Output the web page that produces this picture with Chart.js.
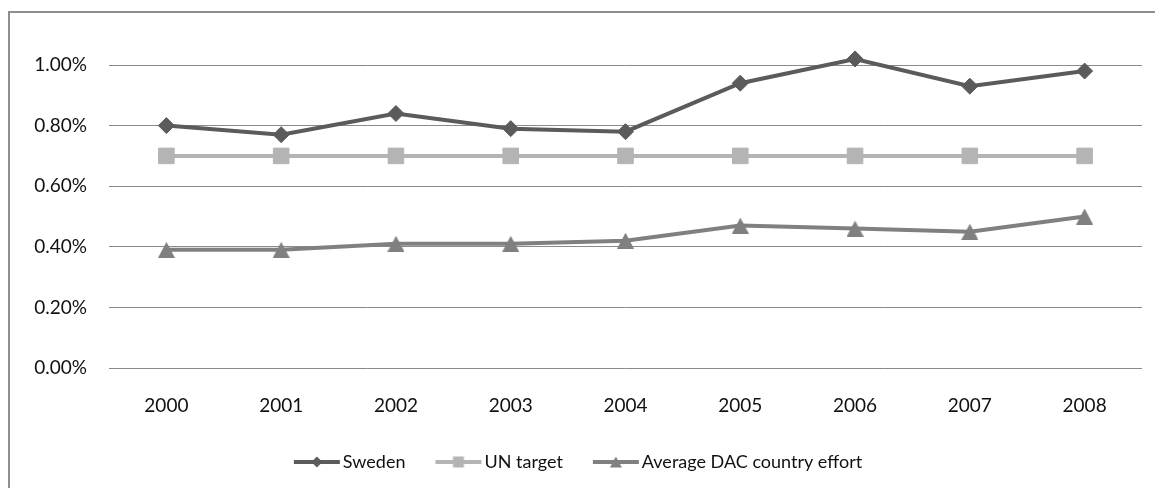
<!DOCTYPE html>
<html>
<head>
<meta charset="utf-8">
<script src="https://cdn.jsdelivr.net/npm/chart.js@4/dist/chart.umd.min.js"></script>
<style>
  html, body { margin: 0; padding: 0; background: #ffffff; }
  #wrap { position: relative; width: 1155px; height: 488px; overflow: hidden; background: #ffffff; }
  #frame { position: absolute; left: 8px; top: 11px; width: 1200px; height: 600px;
           border-left: 2px solid #8e8e8e; border-top: 2px solid #8e8e8e; }
  #c { position: absolute; left: 0; top: 0; }
</style>
</head>
<body>
<div id="wrap">
  <div id="frame"></div>
  <canvas id="c" width="1155" height="488"></canvas>
</div>
<script>
// ODA as a share of GNI, per cent
const years = ['2000', '2001', '2002', '2003', '2004', '2005', '2006', '2007', '2008'];
const sweden = [0.80, 0.77, 0.84, 0.79, 0.78, 0.94, 1.02, 0.93, 0.98];
const unTarget = [0.70, 0.70, 0.70, 0.70, 0.70, 0.70, 0.70, 0.70, 0.70];
const dacAverage = [0.39, 0.39, 0.41, 0.41, 0.42, 0.47, 0.46, 0.45, 0.50];
const seriesNames = ['Sweden', 'UN target', 'Average DAC country effort'];

const colSweden = '#5b5b5b';
const colUN = '#b4b4b4';
const colDAC = '#808080';

// Triangle marker centred on its bounding box (not its centroid)
function triangleMarker(color, w, h) {
  const cv = document.createElement('canvas');
  cv.width = w; cv.height = h;
  const g = cv.getContext('2d');
  g.fillStyle = color;
  g.beginPath(); g.moveTo(w / 2, 0); g.lineTo(w, h); g.lineTo(0, h); g.closePath(); g.fill();
  return cv;
}
const dacMarker = triangleMarker(colDAC, 17, 16);

// Legend swatch: a short line with the series marker in the middle
function swatch(color, shape) {
  const cv = document.createElement('canvas');
  cv.width = 54; cv.height = 20;
  const g = cv.getContext('2d');
  g.strokeStyle = color; g.lineWidth = 4;
  g.beginPath(); g.moveTo(7, 10); g.lineTo(53, 10); g.stroke();
  g.fillStyle = color;
  const cx = 30, cy = 10;
  g.beginPath();
  if (shape === 'diamond') {
    g.moveTo(cx, cy - 5.5); g.lineTo(cx + 5.5, cy); g.lineTo(cx, cy + 5.5); g.lineTo(cx - 5.5, cy);
  } else if (shape === 'square') {
    g.rect(cx - 5.5, cy - 5.5, 11, 11);
  } else {
    g.moveTo(cx, cy - 5.5); g.lineTo(cx + 6, cy + 5.5); g.lineTo(cx - 6, cy + 5.5);
  }
  g.closePath(); g.fill();
  return cv;
}
const swatches = [swatch(colSweden, 'diamond'), swatch(colUN, 'square'), swatch(colDAC, 'triangle')];

new Chart(document.getElementById('c'), {
  type: 'line',
  data: {
    labels: years,
    datasets: [
      { label: seriesNames[0], data: sweden, borderColor: colSweden, backgroundColor: colSweden,
        borderWidth: 4, pointStyle: 'rectRot', pointRadius: 8, pointBorderWidth: 1,
        pointBackgroundColor: colSweden, pointBorderColor: colSweden, tension: 0, clip: false },
      { label: seriesNames[1], data: unTarget, borderColor: colUN, backgroundColor: colUN,
        borderWidth: 4, pointStyle: 'rect', pointRadius: 11, pointBorderWidth: 1,
        pointBackgroundColor: colUN, pointBorderColor: colUN, tension: 0, clip: false },
      { label: seriesNames[2], data: dacAverage, borderColor: colDAC, backgroundColor: colDAC,
        borderWidth: 4, pointStyle: dacMarker, pointRadius: 9, tension: 0, clip: false }
    ]
  },
  options: {
    responsive: false,
    animation: false,
    events: [],
    layout: { padding: { top: 65, left: 11, right: 10, bottom: 7 } },
    scales: {
      x: {
        offset: true,
        grid: { display: false, drawTicks: false },
        border: { display: false },
        ticks: { color: '#111111', font: { family: 'Lato', size: 19 }, padding: 26, maxRotation: 0 },
        afterFit: (s) => { s.height = 55; }
      },
      y: {
        min: 0, max: 1.0,
        grid: { color: '#8a8a8a', lineWidth: 1, drawTicks: false },
        border: { display: false },
        ticks: { stepSize: 0.2, padding: 22, color: '#111111', font: { family: 'Lato', size: 19 },
                 callback: (v) => v.toFixed(2) + '%' },
        afterFit: (s) => { s.width = 98; }
      }
    },
    plugins: {
      tooltip: { enabled: false },
      legend: {
        position: 'bottom',
        labels: {
          usePointStyle: true,
          pointStyleWidth: 40,
          padding: 30,
          color: '#111111',
          font: { family: 'Lato', size: 18 },
          generateLabels: (chart) => {
            const items = Chart.defaults.plugins.legend.labels.generateLabels(chart);
            items.forEach((it, i) => { it.pointStyle = swatches[i]; });
            return items;
          }
        }
      }
    }
  }
});
</script>
</body>
</html>
